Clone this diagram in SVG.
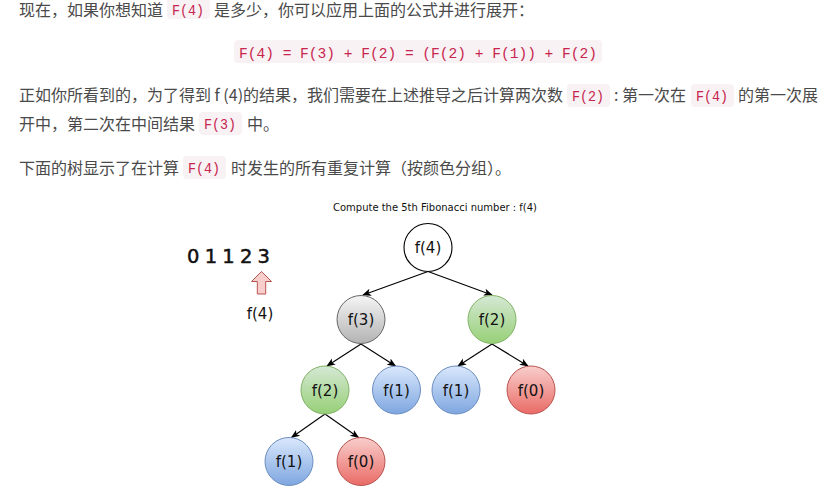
<svg xmlns="http://www.w3.org/2000/svg" width="839" height="487" viewBox="0 0 839 487">
<defs>
<style>
.t{font-family:"Noto Sans CJK SC","Noto Sans",sans-serif;font-size:16px;fill:#4a4a4a}
.cb{fill:#f9f2f4}
.c{font-family:"Liberation Mono","DejaVu Sans Mono",monospace;font-size:14.5px;fill:#c7254e}
.d{font-family:"DejaVu Sans","Liberation Sans",sans-serif;fill:#111}
.nl{font-family:"DejaVu Sans","Liberation Sans",sans-serif;font-size:15px;fill:#111;text-anchor:middle}
.e{stroke:#000;stroke-width:1.1;fill:none;marker-end:url(#ah)}
</style>
<linearGradient id="gGray" x1="0" y1="0" x2="0" y2="1"><stop offset="0" stop-color="#f5f5f5"/><stop offset="1" stop-color="#b3b3b3"/></linearGradient>
<linearGradient id="gGreen" x1="0" y1="0" x2="0" y2="1"><stop offset="0" stop-color="#d5e8d4"/><stop offset="1" stop-color="#97d077"/></linearGradient>
<linearGradient id="gBlue" x1="0" y1="0" x2="0" y2="1"><stop offset="0" stop-color="#dae8fc"/><stop offset="1" stop-color="#7ea6e0"/></linearGradient>
<linearGradient id="gRed" x1="0" y1="0" x2="0" y2="1"><stop offset="0" stop-color="#f8cecc"/><stop offset="1" stop-color="#ea6b66"/></linearGradient>
<marker id="ah" viewBox="0 0 10 10" refX="9" refY="5" markerWidth="9" markerHeight="9" markerUnits="userSpaceOnUse" orient="auto"><path d="M0,1 L10,5 L0,9 L2.5,5 Z" fill="#000"/></marker>
</defs>
<rect width="839" height="487" fill="#fff"/>

<g id="paragraph1">
<text class="t" x="19" y="15.5">现在，如果你想知道</text>
<rect class="cb" x="167" y="-2" width="43" height="21" rx="4"/>
<text class="c" x="172" y="15" textLength="32" lengthAdjust="spacingAndGlyphs">F(4)</text>
<text class="t" x="214" y="15.5">是多少，你可以应用上面的公式并进行展开：</text>
</g>

<g id="formula">
<rect class="cb" x="234" y="40" width="368" height="23" rx="4"/>
<text class="c" x="239" y="57.5" textLength="358" lengthAdjust="spacingAndGlyphs">F(4) = F(3) + F(2) = (F(2) + F(1)) + F(2)</text>
</g>

<g id="paragraph2">
<text class="t" x="19" y="101">正如你所看到的，为了得到 f (4)的结果，我们需要在上述推导之后计算两次数</text>
<rect class="cb" x="567" y="84" width="43" height="23" rx="4"/>
<text class="c" x="572" y="101" textLength="32" lengthAdjust="spacingAndGlyphs">F(2)</text>
<text class="t" x="614" y="101">: 第一次在</text>
<rect class="cb" x="691" y="84" width="43" height="23" rx="4"/>
<text class="c" x="696" y="101" textLength="32" lengthAdjust="spacingAndGlyphs">F(4)</text>
<text class="t" x="738" y="101">的第一次展</text>
<text class="t" x="19" y="130">开中，第二次在中间结果</text>
<rect class="cb" x="199" y="112" width="43" height="23" rx="4"/>
<text class="c" x="204" y="129" textLength="32" lengthAdjust="spacingAndGlyphs">F(3)</text>
<text class="t" x="247" y="130">中。</text>
</g>

<g id="paragraph3">
<text class="t" x="19" y="173.5">下面的树显示了在计算</text>
<rect class="cb" x="183" y="156" width="43" height="23" rx="4"/>
<text class="c" x="188" y="172.5" textLength="32" lengthAdjust="spacingAndGlyphs">F(4)</text>
<text class="t" x="231" y="173.5">时发生的所有重复计算（按颜色分组）。</text>
</g>

<g id="title">
<text class="d" x="333" y="211" font-size="10.5" textLength="204" lengthAdjust="spacingAndGlyphs">Compute the 5th Fibonacci number : f(4)</text>
</g>

<g id="sequence">
<text class="d" x="187" y="263" font-size="19.5" stroke="#111" stroke-width="0.5" textLength="83" lengthAdjust="spacing">0 1 1 2 3</text>
</g>

<g id="pointer">
<path d="M261.5,271.5 L271.5,281.5 L265.7,281.5 L265.7,294 L257.3,294 L257.3,281.5 L251.5,281.5 Z" fill="#f8cecc" stroke="#b85450" stroke-width="1"/>
<text class="nl" x="260" y="319" font-size="15">f(4)</text>
</g>

<g id="connectors">
<line class="e" x1="428" y1="271.5" x2="363" y2="295"/>
<line class="e" x1="428" y1="271.5" x2="492" y2="295"/>
<line class="e" x1="361" y1="344" x2="327" y2="366"/>
<line class="e" x1="361" y1="344" x2="395.5" y2="366"/>
<line class="e" x1="492" y1="344" x2="458" y2="366"/>
<line class="e" x1="492" y1="344" x2="528" y2="366"/>
<line class="e" x1="325" y1="414" x2="291.5" y2="437.5"/>
<line class="e" x1="325" y1="414" x2="358.5" y2="437.5"/>
</g>

<g id="n-f4"><circle cx="428" cy="247.5" r="24" fill="#fff" stroke="#000" stroke-width="1.1"/><text class="nl" x="428" y="253">f(4)</text></g>
<g id="n-f3"><circle cx="361" cy="319.5" r="24" fill="url(#gGray)" stroke="#666" stroke-width="1"/><text class="nl" x="361" y="325">f(3)</text></g>
<g id="n-f2a"><circle cx="492" cy="319.5" r="24" fill="url(#gGreen)" stroke="#82b366" stroke-width="1"/><text class="nl" x="492" y="325">f(2)</text></g>
<g id="n-f2b"><circle cx="325" cy="390" r="24" fill="url(#gGreen)" stroke="#82b366" stroke-width="1"/><text class="nl" x="325" y="395.5">f(2)</text></g>
<g id="n-f1a"><circle cx="396.5" cy="390" r="24" fill="url(#gBlue)" stroke="#6c8ebf" stroke-width="1"/><text class="nl" x="396.5" y="395.5">f(1)</text></g>
<g id="n-f1b"><circle cx="456" cy="390" r="24" fill="url(#gBlue)" stroke="#6c8ebf" stroke-width="1"/><text class="nl" x="456" y="395.5">f(1)</text></g>
<g id="n-f0a"><circle cx="531" cy="390" r="24" fill="url(#gRed)" stroke="#b85450" stroke-width="1"/><text class="nl" x="531" y="395.5">f(0)</text></g>
<g id="n-f1c"><circle cx="289" cy="461.5" r="24" fill="url(#gBlue)" stroke="#6c8ebf" stroke-width="1"/><text class="nl" x="289" y="467">f(1)</text></g>
<g id="n-f0b"><circle cx="361" cy="461.5" r="24" fill="url(#gRed)" stroke="#b85450" stroke-width="1"/><text class="nl" x="361" y="467">f(0)</text></g>
</svg>
